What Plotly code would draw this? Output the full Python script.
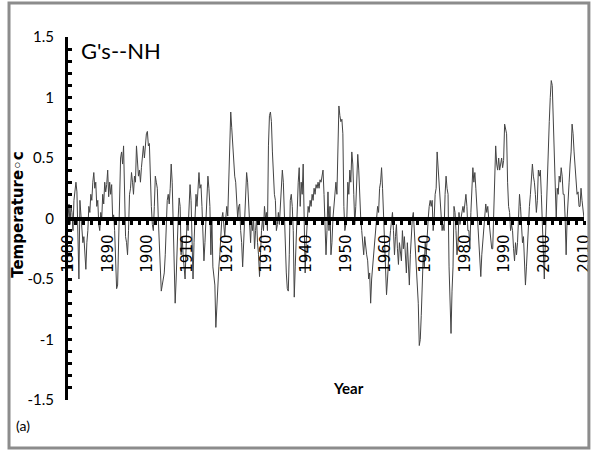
import numpy as np
import plotly.graph_objects as go

# Northern Hemisphere temperature anomaly, quarterly values (deg C), 1880-2010
start_year = 1880
steps_per_year = 4
temps = [
    0.0, 0.12, -0.05, 0.1,   0.05, -0.1, 0.15, 0.26,   0.3, 0.22, -0.2, -0.5,   0.15, 0.05, -0.1, -0.2,   -0.15, -0.3, -0.42, -0.2,
    -0.1, 0.1, 0.05, 0.2,   0.15, 0.3, 0.38, 0.25,   0.3, 0.1, 0.15, -0.05,   -0.1, 0.05, 0.0, 0.2,   0.12, 0.3, 0.22, 0.28,
    0.4, 0.18, 0.3, 0.2,   0.28, 0.0, 0.03, -0.1,   -0.4, -0.58, -0.55, -0.2,   0.3, 0.5, 0.55, 0.45,   0.6, 0.3, -0.15, -0.2,
    -0.3, -0.1, 0.2, 0.25,   0.38, 0.3, 0.2, 0.35,   0.3, 0.6, 0.45, 0.35,   0.4, 0.3, 0.42, 0.55,   0.6, 0.5, 0.65, 0.7,
    0.72, 0.6, 0.62, 0.3,   0.1, -0.05, -0.1, 0.1,   0.35, 0.3, 0.25, 0.0,   -0.2, -0.45, -0.6, -0.55,   -0.48, -0.45, -0.3, 0.0,
    0.15, 0.2, 0.12, 0.25,   0.45, 0.3, 0.0, -0.2,   -0.7, -0.5, -0.2, 0.0,   0.17, 0.1, -0.3, -0.15,   -0.3, -0.45, -0.5, -0.25,
    0.0, -0.1, 0.1, 0.28,   0.15, -0.1, -0.5, -0.2,   0.05, 0.2, 0.1, 0.3,   0.38, 0.25, 0.28, 0.1,   -0.1, -0.35, -0.2, 0.0,
    0.2, 0.35, 0.25, 0.1,   -0.3, 0.0, -0.4, -0.5,   -0.55, -0.9, -0.7, -0.5,   -0.4, -0.3, -0.1, 0.0,   0.05, -0.05, -0.15, 0.0,
    0.1, 0.02, 0.3, 0.6,   0.88, 0.75, 0.6, 0.4,   0.35, 0.3, 0.1, 0.0,   0.1, 0.12, -0.1, -0.2,   -0.4, -0.2, 0.1, 0.2,
    0.38, 0.3, 0.1, -0.05,   -0.2, 0.0, -0.1, 0.0,   -0.25, -0.1, 0.0, -0.2,   -0.3, -0.48, -0.2, -0.1,   0.0, -0.1, 0.1, 0.0,
    0.05, -0.1, 0.6, 0.85,   0.88, 0.8, 0.55, 0.3,   0.2, 0.15, -0.1, -0.05,   0.05, -0.05, 0.1, 0.35,   0.4, 0.3, 0.0, -0.1,
    -0.45, -0.58, -0.6, -0.3,   0.15, 0.2, 0.1, -0.1,   -0.65, -0.4, -0.1, 0.2,   0.3, 0.42, 0.1, 0.3,   0.2, 0.45, -0.1, -0.45,
    -0.2, 0.0, 0.1, 0.05,   0.15, 0.1, 0.2, 0.15,   0.25, 0.2, 0.28, 0.25,   0.3, 0.25, 0.32, 0.3,   0.35, 0.4, 0.2, 0.0,
    -0.3, -0.1, 0.22, -0.1,   0.1, -0.3, -0.2, 0.0,   0.1, 0.25, 0.3, 0.2,   0.6, 0.93, 0.85, 0.8,   0.82, 0.7, 0.1, -0.1,
    -0.05, 0.0, 0.3, 0.2,   0.4, 0.3, 0.55, 0.45,   0.2, -0.05, 0.1, 0.3,   0.53, 0.4, 0.1, 0.0,   -0.1, -0.2, -0.3, -0.15,
    -0.25, -0.3, -0.35, -0.5,   -0.45, -0.7, -0.5, -0.4,   -0.3, -0.2, -0.1, 0.0,   0.1, 0.05, 0.25, 0.3,   0.42, 0.25, 0.0, -0.3,
    -0.5, -0.63, -0.5, -0.3,   -0.2, -0.1, 0.0, 0.05,   -0.1, -0.3, -0.15, -0.05,   -0.25, -0.38, -0.2, -0.3,   -0.35, -0.1, -0.25, -0.15,
    -0.3, -0.45, -0.2, -0.4,   -0.55, -0.3, -0.1, 0.0,   0.05, -0.1, -0.2, -0.3,   -0.45, -0.7, -1.05, -1.0,   -0.8, -0.6, -0.3, -0.4,
    -0.2, -0.3, -0.1, 0.0,   0.1, 0.15, 0.1, 0.15,   -0.1, 0.0, 0.2, 0.25,   0.55, 0.4, 0.35, 0.15,   0.0, -0.1, -0.05, -0.1,
    0.2, 0.35, 0.25, 0.2,   -0.4, -0.7, -0.95, -0.6,   -0.4, 0.1, 0.05, -0.1,   -0.3, -0.2, 0.05, -0.05,   0.0, 0.05, 0.1, 0.05,
    0.15, 0.2, 0.1, -0.1,   -0.1, -0.25, 0.05, 0.2,   0.42, 0.3, 0.38, 0.25,   0.1, 0.0, -0.2, -0.3,   -0.48, -0.3, -0.2, -0.1,
    0.0, 0.12, 0.05, 0.1,   0.0, -0.1, -0.15, -0.25,   -0.25, 0.1, 0.3, 0.6,   0.45, 0.4, 0.5, 0.4,   0.45, 0.5, 0.42, 0.48,
    0.78, 0.72, 0.7, 0.3,   0.1, 0.05, -0.1, -0.05,   -0.1, -0.25, -0.35, -0.2,   -0.3, -0.2, 0.0, 0.2,   0.1, -0.1, -0.2, -0.15,
    -0.3, -0.55, -0.4, -0.2,   -0.1, 0.1, 0.2, 0.3,   0.45, 0.35, 0.3, 0.2,   0.05, 0.15, 0.4, 0.35,   0.4, 0.2, -0.05, -0.3,
    -0.5, -0.2, 0.1, 0.3,   0.6, 0.8, 1.0, 1.14,   1.1, 0.8, 0.4, 0.2,   0.0, 0.25, 0.2, 0.35,   0.3, 0.42, 0.35, 0.2,
    0.2, 0.0, -0.3, 0.0,   0.2, 0.3, 0.45, 0.55,   0.78, 0.7, 0.55, 0.4,   0.3, 0.2, 0.22, 0.1,   0.1, 0.25, 0.15, 0.05,
    0.0,
]
years = start_year + np.arange(len(temps)) / steps_per_year

y_ticks = [1.5, 1, 0.5, 0, -0.5, -1, -1.5]
y_tick_text = ["1.5", "1", "0.5", "0", "-0.5", "-1", "-1.5"]
x_ticks = [1880, 1890, 1900, 1910, 1920, 1930, 1940, 1950, 1960, 1970, 1980, 1990, 2000, 2010]

fig = go.Figure()
fig.add_trace(go.Scatter(
    x=years, y=temps, mode="lines",
    line=dict(color="#444444", width=1),
    hoverinfo="skip", showlegend=False,
))

fig.update_layout(
    width=602, height=451,
    margin=dict(l=68, r=9, t=37, b=51),
    paper_bgcolor="white", plot_bgcolor="white",
    showlegend=False,
    xaxis=dict(
        range=[1880, 2010],
        anchor="free", position=0.5,
        showline=True, linecolor="black", linewidth=4,
        showgrid=False, zeroline=False,
        tickvals=x_ticks, ticktext=[str(v) for v in x_ticks],
        tickangle=-90,
        ticks="outside", ticklen=4, tickwidth=3, tickcolor="black",
        minor=dict(dtick=2, tick0=1880, ticks="outside", ticklen=4, tickwidth=3, tickcolor="black"),
        tickfont=dict(family="DejaVu Sans", size=15, color="black"),
        ticklabelstandoff=4,
    ),
    yaxis=dict(
        range=[-1.5, 1.5],
        showline=True, linecolor="black", linewidth=3,
        showgrid=False, zeroline=False,
        tickvals=y_ticks, ticktext=y_tick_text,
        ticks="inside", ticklen=4, tickwidth=3, tickcolor="black",
        minor=dict(dtick=0.1, tick0=0, ticks="inside", ticklen=4, tickwidth=3, tickcolor="black"),
        tickfont=dict(family="Lato", size=15, color="black"),
        ticklabelstandoff=8,
    ),
)

# outer frame
fig.add_shape(type="rect", xref="paper", yref="paper",
              x0=-0.1143, x1=1.0095, y0=-0.1322, y1=1.0937,
              line=dict(color="#8c8c8c", width=3), fillcolor="rgba(0,0,0,0)")

fig.add_annotation(text="G's--NH", xref="paper", yref="paper", x=0.022, y=0.962,
                   xanchor="left", yanchor="middle", showarrow=False,
                   font=dict(family="Lato", size=22, color="black"))
fig.add_annotation(text="<b>Year</b>", xref="paper", yref="paper", x=0.543, y=0.033,
                   xanchor="center", yanchor="middle", showarrow=False,
                   font=dict(family="Lato", size=15, color="black"))
fig.add_annotation(text="(a)", xref="paper", yref="paper", x=-0.105, y=-0.069,
                   xanchor="left", yanchor="middle", showarrow=False,
                   font=dict(family="Lato", size=14, color="black"))
fig.add_annotation(text="<b>Temperature\u25e6c</b>", xref="paper", yref="paper", x=-0.097, y=0.51,
                   xanchor="center", yanchor="middle", showarrow=False, textangle=-90,
                   font=dict(family="DejaVu Sans", size=15, color="black"))

fig.write_html("out.html")
